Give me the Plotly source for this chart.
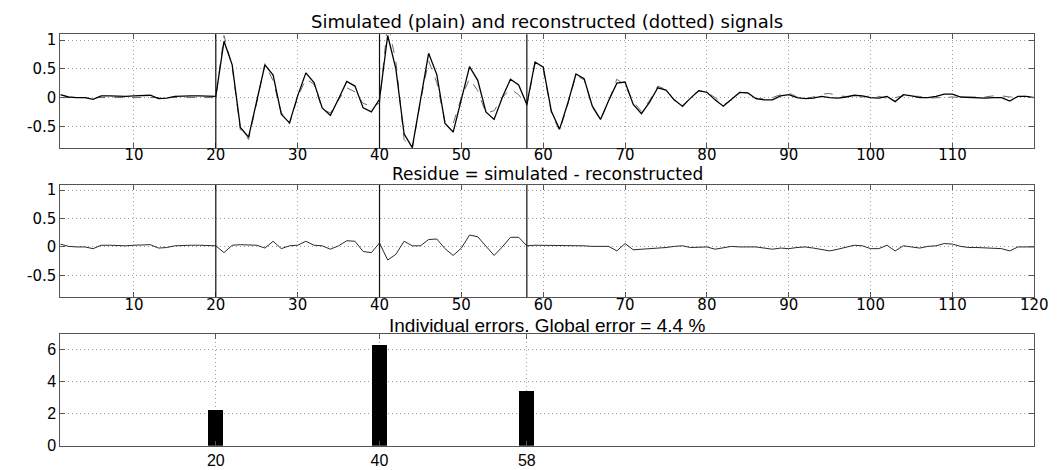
import plotly.graph_objects as go

# ---- data ----
n_samples = list(range(1, 121))

simulated = [
    0.05, 0.01, 0.00, 0.00, -0.03, 0.03, 0.03, 0.02, 0.02, 0.03,
    0.03, 0.04, -0.02, -0.01, 0.02, 0.03, 0.03, 0.03, 0.02, 0.02,
    0.98, 0.57, -0.52, -0.69, -0.06, 0.57, 0.39, -0.29, -0.44, 0.03,
    0.43, 0.26, -0.18, -0.31, -0.02, 0.28, 0.20, -0.18, -0.25, -0.03,
    1.08, 0.50, -0.63, -0.87, -0.05, 0.77, 0.40, -0.45, -0.60, -0.02,
    0.54, 0.30, -0.25, -0.38, 0.00, 0.32, 0.22, -0.12, 0.62, 0.53,
    -0.24, -0.55, -0.10, 0.41, 0.33, -0.15, -0.38, -0.05, 0.25, 0.27,
    -0.12, -0.28, -0.08, 0.17, 0.13, -0.04, -0.15, -0.01, 0.12, 0.09,
    -0.04, -0.15, -0.03, 0.09, 0.08, -0.02, -0.04, -0.04, 0.03, 0.05,
    0.00, -0.02, -0.01, 0.02, 0.00, -0.01, 0.01, 0.04, 0.03, 0.00,
    -0.01, 0.02, -0.07, 0.05, 0.03, 0.00, 0.00, 0.02, 0.06, 0.06,
    0.01, 0.00, 0.00, -0.01, 0.00, 0.00, -0.06, 0.02, 0.02, 0.00,
]

residue = [
    0.05, 0.01, 0.00, 0.00, -0.03, 0.03, 0.03, 0.02, 0.02, 0.03,
    0.03, 0.04, -0.02, -0.01, 0.02, 0.03, 0.03, 0.03, 0.02, 0.02,
    -0.10, 0.03, 0.04, 0.04, 0.03, -0.02, 0.10, -0.03, 0.02, 0.03,
    0.10, 0.03, 0.02, -0.04, 0.02, 0.11, 0.10, -0.08, -0.10, 0.07,
    -0.23, -0.13, 0.10, 0.02, 0.02, 0.13, 0.14, -0.03, -0.15, -0.02,
    0.21, 0.18, 0.02, -0.15, 0.00, 0.17, 0.17, 0.02, 0.03, 0.03,
    0.03, 0.03, 0.02, 0.02, 0.02, 0.01, 0.01, 0.01, -0.07, 0.06,
    -0.05, -0.04, -0.03, -0.03, -0.01, 0.01, 0.02, -0.01, 0.00, 0.00,
    -0.04, -0.02, 0.01, 0.00, 0.00, 0.00, -0.02, -0.04, -0.02, -0.03,
    -0.01, 0.00, -0.02, -0.04, -0.07, -0.04, -0.01, 0.03, 0.02, -0.03,
    -0.03, 0.03, -0.07, 0.02, 0.00, -0.02, 0.01, 0.02, 0.06, 0.05,
    0.01, -0.01, -0.01, -0.02, -0.03, -0.03, -0.07, 0.00, 0.00, 0.00,
]

# reconstructed = simulated - residue (definition shown in the chart)
reconstructed = [s - r for s, r in zip(simulated, residue)]

atom_positions = [20, 40, 58]
atom_errors = [2.25, 6.33, 3.44]
atom_labels = ["20", "40", "58"]

top_ticks = [10, 20, 30, 40, 50, 60, 70, 80, 90, 100, 110]
mid_ticks = [10, 20, 30, 40, 50, 60, 70, 80, 90, 100, 110, 120]
sig_yticks = [-0.5, 0, 0.5, 1]
sig_yticklabels = ["-0.5", "0", "0.5", "1"]
err_yticks = [0, 2, 4, 6]

titles = [
    "Simulated (plain) and reconstructed (dotted) signals",
    "Residue = simulated - reconstructed",
    "Individual errors. Global error = 4.4 %",
]

# ---- figure ----
W, H = 1063, 470
fig = go.Figure()

fig.add_trace(go.Scatter(x=n_samples, y=reconstructed, mode="lines",
                         line=dict(color="#6a6a6a", width=1, dash="dash"),
                         xaxis="x", yaxis="y", showlegend=False))
fig.add_trace(go.Scatter(x=n_samples, y=simulated, mode="lines",
                         line=dict(color="#000000", width=1.3),
                         xaxis="x", yaxis="y", showlegend=False))
fig.add_trace(go.Scatter(x=n_samples, y=residue, mode="lines",
                         line=dict(color="#2a2a2a", width=1),
                         xaxis="x2", yaxis="y2", showlegend=False))
fig.add_trace(go.Bar(x=atom_positions, y=atom_errors, width=1.8,
                     marker=dict(color="#000000", line=dict(width=0)),
                     xaxis="x3", yaxis="y3", showlegend=False))

def px_dom_x(a, b):
    return [a / W, b / W]

def px_dom_y(top, bottom):
    return [1 - bottom / H, 1 - top / H]

xdom = px_dom_x(53, 1040)
upper_font = dict(family="DejaVu Sans", size=15, color="#000")
lower_font = dict(family="Liberation Sans", size=16, color="#000")

common_axis = dict(showline=True, mirror="ticks", linecolor="#555555",
                   linewidth=1, ticks="inside", ticklen=5, tickcolor="#555555",
                   showgrid=True, gridcolor="#9a9a9a", griddash="1px,3px",
                   gridwidth=1, zeroline=False)

layout = dict(
    width=W, height=H, margin=dict(l=0, r=0, t=0, b=0),
    paper_bgcolor="white", plot_bgcolor="white",
    bargap=0,
    xaxis=dict(domain=xdom, range=[1, 120], tickvals=top_ticks,
               tickfont=upper_font, anchor="y", ticklabelstandoff=-7,
               **common_axis),
    yaxis=dict(domain=px_dom_y(23, 140), range=[-0.88, 1.1],
               tickvals=sig_yticks, ticktext=sig_yticklabels,
               tickfont=upper_font, anchor="x", **common_axis),
    xaxis2=dict(domain=xdom, range=[1, 120], tickvals=mid_ticks,
                tickfont=upper_font, anchor="y2", ticklabelstandoff=-6,
                **common_axis),
    yaxis2=dict(domain=px_dom_y(178, 293), range=[-0.88, 1.09],
                tickvals=sig_yticks, ticktext=sig_yticklabels,
                tickfont=upper_font, anchor="x2", **common_axis),
    xaxis3=dict(domain=xdom, range=[1, 120], tickvals=atom_positions,
                ticktext=atom_labels, tickfont=lower_font, anchor="y3",
                ticklabelstandoff=0, **common_axis),
    yaxis3=dict(domain=px_dom_y(331, 446), range=[0, 7],
                tickvals=err_yticks, tickfont=lower_font, anchor="x3",
                **common_axis),
)
fig.update_layout(**layout)

# vertical lines at the atom positions (top and middle panels)
for xa, ya in (("x", "y"), ("x2", "y2")):
    for p in atom_positions:
        fig.add_shape(type="line", xref=xa, yref=ya + " domain",
                      x0=p, x1=p, y0=0, y1=1,
                      line=dict(color="#111111", width=1.2), layer="above")

# panel titles
title_y_px = [10, 167, 322]
title_fonts = [dict(family="DejaVu Sans", size=18, color="#000"),
               dict(family="DejaVu Sans", size=17, color="#000"),
               dict(family="Liberation Sans", size=19, color="#000")]
for t, yp, f in zip(titles, title_y_px, title_fonts):
    fig.add_annotation(text=t, xref="paper", yref="paper",
                       x=(xdom[0] + xdom[1]) / 2, y=1 - yp / H,
                       xanchor="center", yanchor="middle",
                       showarrow=False, font=f)

fig.write_html("out.html")
